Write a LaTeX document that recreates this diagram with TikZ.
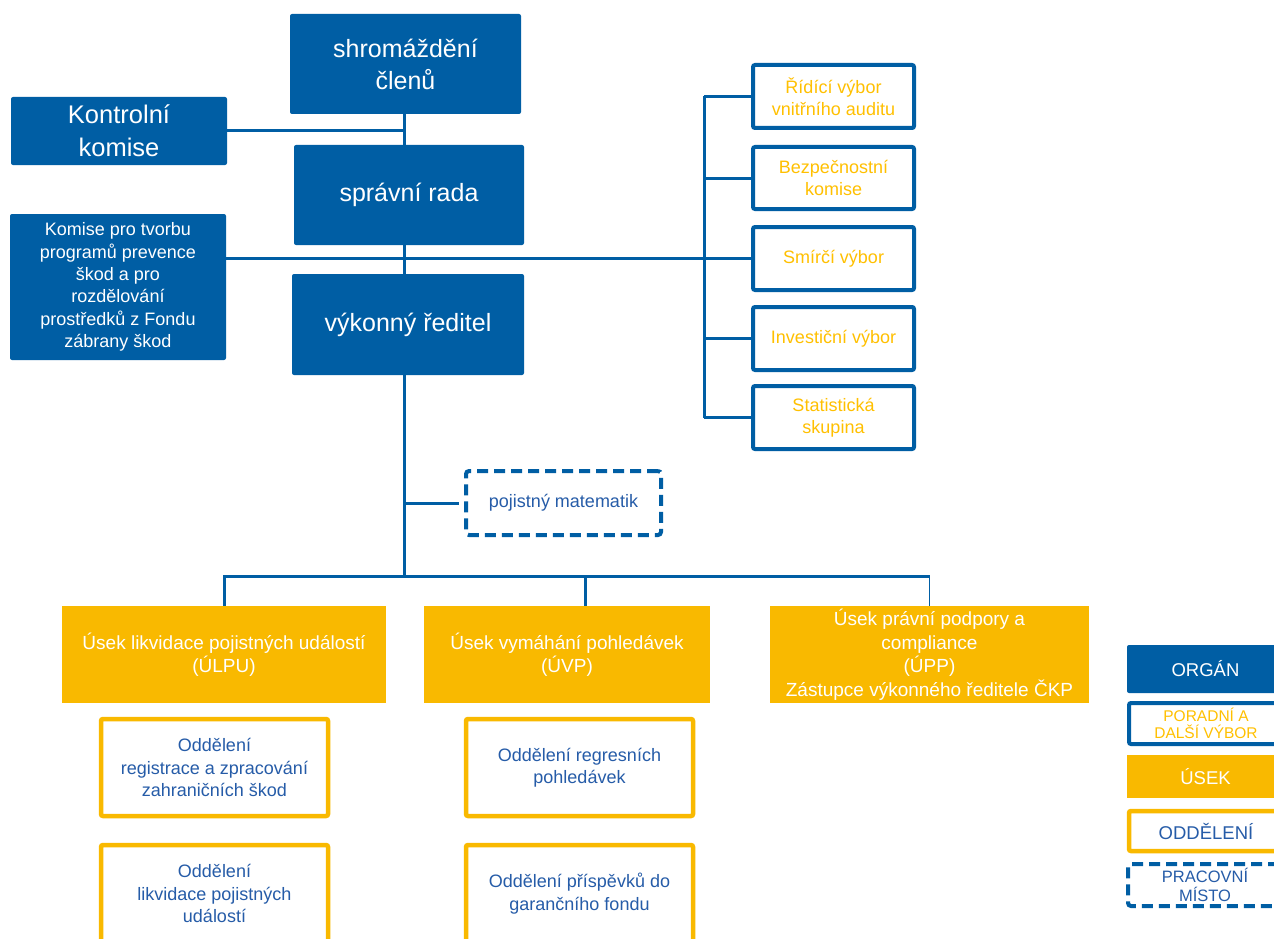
\documentclass[tikz,border=0pt]{standalone}
\usepackage{fontspec}
\setmainfont{Liberation Sans}
\definecolor{orgblue}{RGB}{0,94,164}
\definecolor{usekyellow}{RGB}{249,185,0}
\definecolor{txtyellow}{RGB}{255,192,0}
\definecolor{txtblue}{RGB}{38,92,168}
\pgfdeclarelayer{back}
\pgfdeclarelayer{bg}
\pgfsetlayers{back,bg,main}
\newcommand\fsBig{\fontsize{25}{32}\selectfont}
\newcommand\fsMid{\fontsize{18}{22.4}\selectfont}
\newcommand\fsUsek{\fontsize{19}{23.5}\selectfont}
\newcommand\fsLeg{\fontsize{18.5}{20}\selectfont}
\newcommand\fsLegS{\fontsize{15.5}{17.5}\selectfont}
\tikzset{
  organ/.style={fill=orgblue, text=white, rounded corners=2pt, inner sep=0pt, align=center},
  poradni/.style={draw=orgblue, line width=4pt, fill=white, text=txtyellow, rounded corners=2pt, inner sep=0pt, align=center, font=\fsMid},
  usekbox/.style={fill=usekyellow, text=white, inner sep=0pt, align=center, font=\fsUsek},
  oddbox/.style={draw=usekyellow, line width=4.5pt, fill=white, text=txtblue, rounded corners=2pt, inner sep=0pt, align=center, font=\fsMid},
  mistobox/.style={draw=orgblue, line width=4pt, dash pattern=on 11pt off 6pt, fill=white, text=txtblue, rounded corners=3pt, inner sep=0pt, align=center},
  conn/.style={draw=orgblue, line width=3pt}
}
\begin{document}
\begin{tikzpicture}[x=1pt,y=-1pt]
\useasboundingbox (0,0) rectangle (1274,939);
\clip (0,0) rectangle (1274,939);
\begin{pgfonlayer}{back}
\fill[white] (0,0) rectangle (1274,939);
\end{pgfonlayer}

\coordinate (trunk) at (404,0);
\coordinate (bus) at (0,576);
\coordinate (rvert) at (704,0);

% organs
\node[organ, font=\fsBig, minimum width=231pt, minimum height=100pt] (shrom) at (405.5,64) {shromáždění\\členů};
\node[organ, font=\fontsize{25.5}{33}\selectfont, minimum width=216pt, minimum height=68pt] (kontrol) at (119,131) {Kontrolní\\komise};
\node[organ, font=\fsBig, minimum width=230pt, minimum height=100pt] (sprav) at (409,195) {správní rada};
\node[organ, font=\fsMid, minimum width=216pt, minimum height=146pt] (komise) at (118,287) {Komise pro tvorbu\\programů prevence\\škod a pro\\rozdělování\\prostředků z Fondu\\zábrany škod};
\node[organ, font=\fsBig, minimum width=232pt, minimum height=101pt] (vykon) at (408,324.5) {výkonný ředitel};

% advisory committees
\node[poradni, minimum width=161pt, minimum height=63pt] (r1) at (833.5,96.5) {Řídící výbor\\vnitřního auditu};
\node[poradni, minimum width=161pt, minimum height=62pt] (r2) at (833.5,178) {Bezpečnostní\\komise};
\node[poradni, minimum width=161pt, minimum height=63pt] (r3) at (833.5,258.5) {Smírčí výbor};
\node[poradni, minimum width=161pt, minimum height=63pt] (r4) at (833.5,338.5) {Investiční výbor};
\node[poradni, minimum width=161pt, minimum height=63pt] (r5) at (833.5,417.5) {Statistická\\skupina};

% work position
\node[mistobox, font=\fsMid, minimum width=195pt, minimum height=64pt] (misto) at (563.5,503) {pojistný matematik};

% sections
\node[usekbox, minimum width=324pt, minimum height=97pt] (ulpu) at (224,654.5) {Úsek likvidace pojistných událostí\\(ÚLPU)};
\node[usekbox, minimum width=286pt, minimum height=97pt] (uvp) at (567,654.5) {Úsek vymáhání pohledávek\\(ÚVP)};
\node[usekbox, minimum width=319pt, minimum height=97pt] (upp) at (929.5,654.5) {Úsek právní podpory a\\compliance\\(ÚPP)\\Zástupce výkonného ředitele ČKP};

% departments
\node[oddbox, minimum width=227pt, minimum height=97pt] (o1) at (214.5,767.5) {Oddělení\\registrace a zpracování\\zahraničních škod};
\node[oddbox, minimum width=227pt, minimum height=97pt] (o2) at (214.5,893.5) {Oddělení\\likvidace pojistných\\událostí};
\node[oddbox, minimum width=227pt, minimum height=97pt] (o3) at (579.5,767.5) {Oddělení regresních\\pohledávek};
\node[oddbox, minimum width=227pt, minimum height=97pt] (o4) at (579.5,893.5) {Oddělení příspěvků do\\garančního fondu};

% legend
\node[organ, font=\fsLeg, minimum width=157pt, minimum height=48pt] (lg1) at (1205.5,669) {ORGÁN};
\node[poradni, font=\fsLegS, minimum width=154pt, minimum height=41pt] (lg2) at (1206,723.5) {PORADNÍ A\\DALŠÍ VÝBOR};
\node[usekbox, font=\fsLeg, minimum width=157pt, minimum height=43pt] (lg3) at (1205.5,776.5) {ÚSEK};
\node[oddbox, font=\fsLeg, minimum width=154pt, minimum height=40pt] (lg4) at (1206,831) {ODDĚLENÍ};
\node[mistobox, font=\fontsize{16.5}{19.5}\selectfont, minimum width=154pt, minimum height=42pt] (lg5) at (1205,885) {PRACOVNÍ\\MÍSTO};

% connectors
\begin{pgfonlayer}{bg}
\draw[conn] (trunk |- shrom.south) -- (trunk |- sprav.north);
\draw[conn] (trunk |- sprav.south) -- (trunk |- vykon.north);
\draw[conn] (trunk |- vykon.south) -- (trunk |- bus);
\draw[conn] (kontrol.east) -- (trunk |- kontrol.east);
\draw[conn] (komise.east |- r3.west) -- (r3.west);
\draw[conn] (rvert |- r1.west) -- (rvert |- r5.west);
\draw[conn] (rvert |- r1.west) -- (r1.west);
\draw[conn] (rvert |- r2.west) -- (r2.west);
\draw[conn] (rvert |- r4.west) -- (r4.west);
\draw[conn] (rvert |- r5.west) -- (r5.west);
\draw[conn, shorten >=5pt] (trunk |- misto.west) -- (misto.west);
\draw[conn] (ulpu.north) -- (ulpu.north |- bus) -- (upp.north |- bus);
\draw[conn] ([xshift=18pt]uvp.north) -- ([xshift=18pt]uvp.north |- bus);
\draw[orgblue, line width=1.5pt] (upp.north |- bus) -- (upp.north);
\end{pgfonlayer}
\end{tikzpicture}
\end{document}
